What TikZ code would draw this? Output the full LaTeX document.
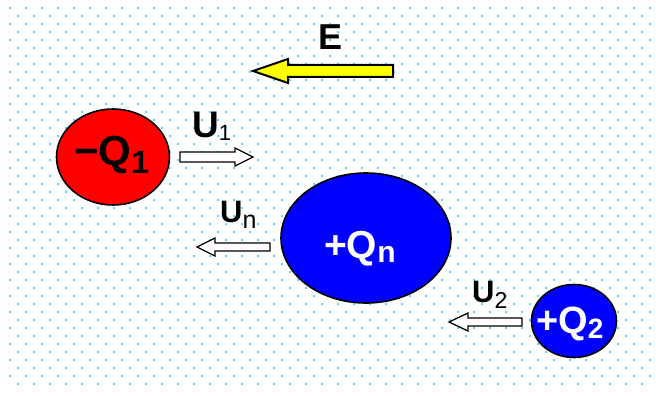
\documentclass[tikz,border=0pt]{standalone}
\usepackage{fontspec}
\setmainfont{Liberation Sans}
\usetikzlibrary{shapes.geometric, positioning}

\definecolor{dotcyan}{RGB}{40,200,255}
\definecolor{chargered}{RGB}{255,0,0}
\definecolor{chargeblue}{RGB}{0,0,255}
\definecolor{fieldyellow}{RGB}{255,255,0}

% block arrow: [style]{tail x}{neck x}{tip x}{y}{half shaft}{half head}
\newcommand{\blockarr}[7][]{%
  \draw[#1] (#2,{#5-#6}) -- (#3,{#5-#6}) -- (#3,{#5-#7}) -- (#4,#5)
    -- (#3,{#5+#7}) -- (#3,{#5+#6}) -- (#2,{#5+#6}) -- cycle;}
% lowered index: {drop}{size}{text}
\newcommand{\lowidx}[3]{\raisebox{-#1pt}{\fontsize{#2}{#2}\selectfont #3}}

\begin{document}
\begin{tikzpicture}[x=1pt, y=-1pt,
    charge/.style={draw=black, line width=1.6pt, ellipse, inner sep=0pt},
    txt/.style={inner sep=0pt, anchor=base west},
    hollow/.style={draw=black, fill=white, line width=1.3pt, line join=miter}]
    \useasboundingbox (0,0) rectangle (656,396);
    \fill[white] (0,0) rectangle (656,396);
    % dotted background
    \foreach \y in {8,24,...,388} \foreach \x in {10,26,...,650}
        \fill[dotcyan] (\x,\y) circle (1.2pt);
    \foreach \y in {16,32,...,384} \foreach \x in {18,34,...,642}
        \fill[dotcyan] (\x,\y) circle (1.2pt);

    % field
    \node[txt, font=\fontsize{36}{36}\selectfont\bfseries] (E) at (318,49) {E};
    \blockarr[draw=black, fill=fieldyellow, line width=2pt, line join=miter]{393}{288}{253}{71}{6}{12}

    % charges
    \node[charge, fill=chargered, minimum width=113pt, minimum height=96pt] (q1) at (113,157) {};
    \node[txt, font=\fontsize{42}{42}\selectfont\bfseries] (q1txt) at (74,165)
        {−Q\lowidx{8}{32}{1}};
    \node[charge, fill=chargeblue, minimum width=170pt, minimum height=130pt] (qn) at (366,238) {};
    \node[txt, text=white, font=\fontsize{39}{39}\selectfont\bfseries] (qntxt) at (324,258)
        {+Q\lowidx{4}{30}{n}};
    \node[charge, fill=chargeblue, minimum width=85pt, minimum height=73pt] (q2) at (574,321) {};
    \node[txt, text=white, font=\fontsize{38}{38}\selectfont\bfseries] (q2txt) at (536,333)
        {+Q\lowidx{5}{28}{2}};

    % velocities
    \node[txt, font=\fontsize{37}{37}\selectfont\bfseries] (u1) at (192,137) {U\lowidx{3}{22}{\mdseries 1}};
    \blockarr[hollow]{180}{235}{253}{157}{5}{9}
    \node[txt, font=\fontsize{31}{31}\selectfont\bfseries] (un) at (220,222) {U\lowidx{6}{25}{\mdseries n}};
    \blockarr[hollow]{270}{215}{197}{247}{4}{9}
    \node[txt, font=\fontsize{31}{31}\selectfont\bfseries] (u2) at (472,302) {U\lowidx{6}{23}{\mdseries 2}};
    \blockarr[hollow]{522}{468}{449}{322}{4}{9}
\end{tikzpicture}
\end{document}
